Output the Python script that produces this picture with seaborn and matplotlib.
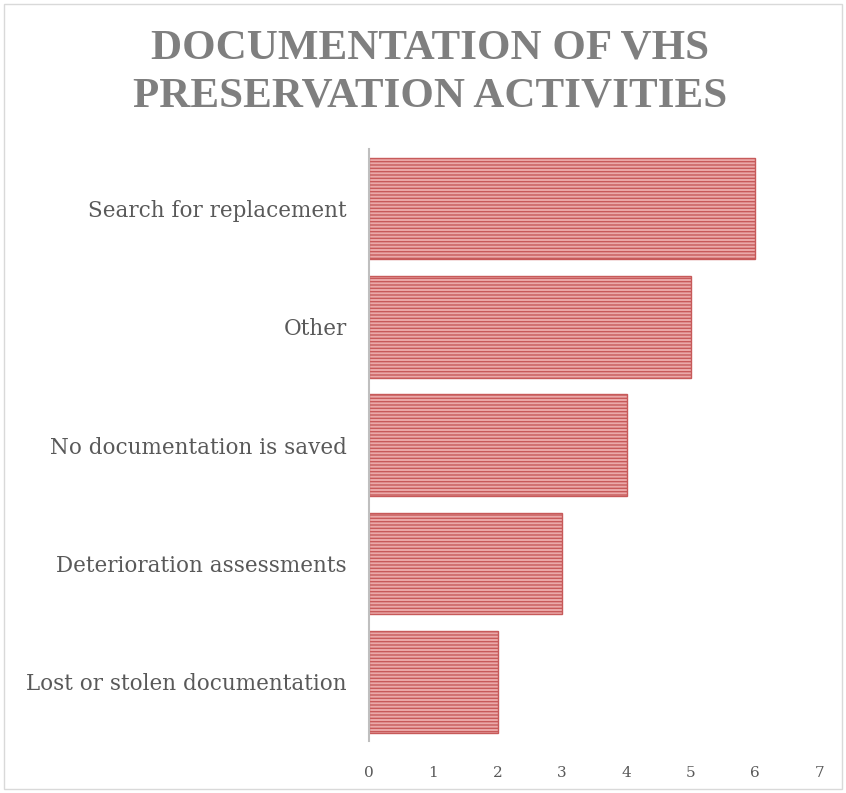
import pandas as pd
import matplotlib.pyplot as plt
import matplotlib.patches as mpatches
import seaborn as sns

# Chart data
activities = ['Search for replacement', 'Other', 'No documentation is saved',
              'Deterioration assessments', 'Lost or stolen documentation']
counts = [6, 5, 4, 3, 2]
x_ticks = [0, 1, 2, 3, 4, 5, 6, 7]

df = pd.DataFrame({'Activity': activities, 'Count': counts})

sns.set_theme(style="white")
plt.rcParams['font.family'] = ['DejaVu Serif']
plt.rcParams['hatch.color'] = '#c75a5a'
plt.rcParams['hatch.linewidth'] = 1.0

fig = plt.figure(figsize=(8.46, 7.93), dpi=100)
ax = fig.add_axes([0.436, 0.0656, 0.533, 0.746])

sns.barplot(data=df, x='Count', y='Activity', color='#eba9a9', width=0.86,
            saturation=1, ax=ax)
for bar in ax.patches:
    bar.set_hatch('-----')
    bar.set_edgecolor('#c75a5a')
    bar.set_linewidth(1.0)

ax.set_xlim(0, 7)
ax.set_xticks(x_ticks)
ax.set_xlabel('')
ax.set_ylabel('')
ax.tick_params(axis='x', labelsize=11, labelcolor='#595959', length=0, pad=18)
ax.tick_params(axis='y', labelsize=15.5, labelcolor='#595959', length=0, pad=16)

for side in ['top', 'right', 'bottom']:
    ax.spines[side].set_visible(False)
ax.spines['left'].set_color('#bfbfbf')
ax.spines['left'].set_linewidth(1.5)

title_font = dict(ha='center', va='center', fontsize=31, fontweight='bold',
                  color='#7f7f7f', family='Liberation Serif')
fig.text(0.508, 0.939, 'DOCUMENTATION OF VHS', **title_font)
fig.text(0.508, 0.878, 'PRESERVATION ACTIVITIES', **title_font)

# light border around the chart area
fig.patches.append(mpatches.Rectangle((0.005, 0.005), 0.99, 0.99, transform=fig.transFigure,
                                      fill=False, edgecolor='#d9d9d9', linewidth=1))

plt.savefig('out.png', dpi=100)
plt.close()
